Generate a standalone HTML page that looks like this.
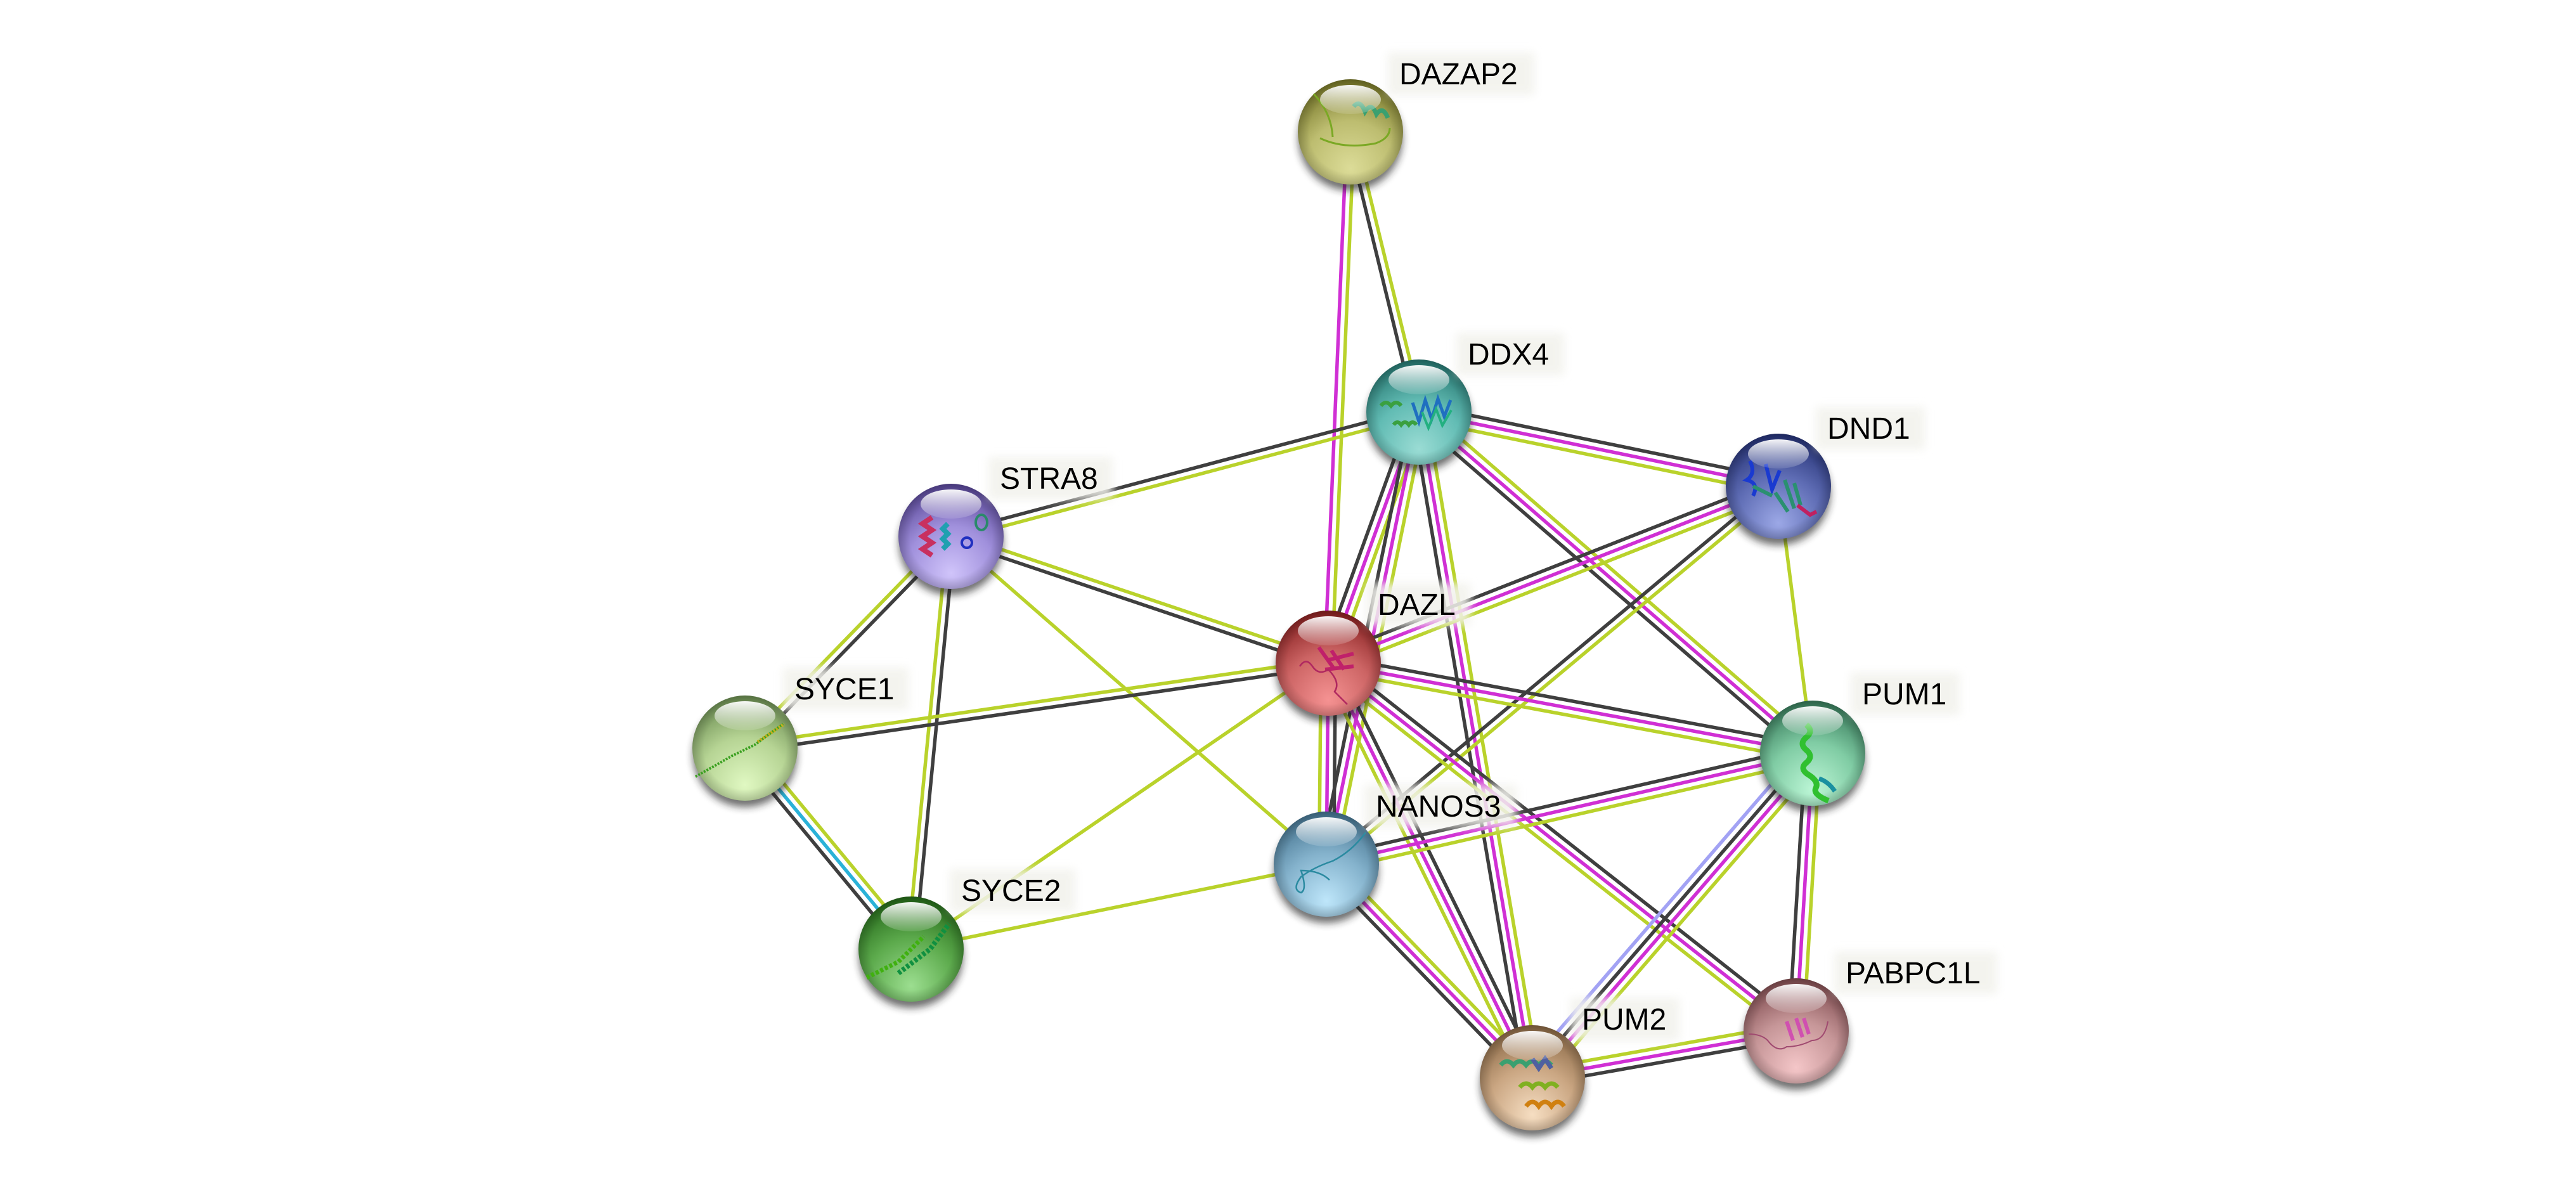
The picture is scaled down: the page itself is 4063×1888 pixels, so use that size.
<!DOCTYPE html>
<html><head><meta charset="utf-8">
<style>
html,body{margin:0;padding:0;background:#fff;}
svg{display:block;}
text{font-family:"Liberation Sans",Arial,sans-serif;font-size:48px;fill:#000;}
</style></head>
<body>
<svg width="4063" height="1888" viewBox="0 0 4063 1888" xmlns="http://www.w3.org/2000/svg">
<defs>
<filter id="sh" x="-50%" y="-50%" width="200%" height="200%"><feGaussianBlur stdDeviation="6"/></filter>
<filter id="lb" x="-30%" y="-50%" width="160%" height="200%"><feGaussianBlur stdDeviation="7"/></filter>
<linearGradient id="hl" x1="0" y1="0" x2="0" y2="1">
<stop offset="0" stop-color="#fff" stop-opacity="0.95"/>
<stop offset="1" stop-color="#fff" stop-opacity="0.12"/>
</linearGradient>
<radialGradient id="rim" cx="0.5" cy="0.5" r="0.5">
<stop offset="0.78" stop-color="#000" stop-opacity="0"/>
<stop offset="1" stop-color="#000" stop-opacity="0.18"/>
</radialGradient>
<radialGradient id="g1" cx="0.5" cy="0.8" r="0.85" fx="0.5" fy="0.85"><stop offset="0" stop-color="#dcdc98"/><stop offset="0.5" stop-color="#bdbd70"/><stop offset="1" stop-color="#6a6a1c"/></radialGradient>
<radialGradient id="g2" cx="0.5" cy="0.8" r="0.85" fx="0.5" fy="0.85"><stop offset="0" stop-color="#9adcd4"/><stop offset="0.5" stop-color="#62bcb4"/><stop offset="1" stop-color="#1c6a64"/></radialGradient>
<radialGradient id="g3" cx="0.5" cy="0.8" r="0.85" fx="0.5" fy="0.85"><stop offset="0" stop-color="#9ca8e6"/><stop offset="0.5" stop-color="#5e6cb4"/><stop offset="1" stop-color="#1c286a"/></radialGradient>
<radialGradient id="g4" cx="0.5" cy="0.8" r="0.85" fx="0.5" fy="0.85"><stop offset="0" stop-color="#d0c4fa"/><stop offset="0.5" stop-color="#a090dc"/><stop offset="1" stop-color="#4c3a8a"/></radialGradient>
<radialGradient id="g5" cx="0.5" cy="0.8" r="0.85" fx="0.5" fy="0.85"><stop offset="0" stop-color="#f59292"/><stop offset="0.5" stop-color="#cc6464"/><stop offset="1" stop-color="#7c1616"/></radialGradient>
<radialGradient id="g6" cx="0.5" cy="0.8" r="0.85" fx="0.5" fy="0.85"><stop offset="0" stop-color="#e0f8c2"/><stop offset="0.5" stop-color="#b6d494"/><stop offset="1" stop-color="#5e8046"/></radialGradient>
<radialGradient id="g7" cx="0.5" cy="0.8" r="0.85" fx="0.5" fy="0.85"><stop offset="0" stop-color="#bcf6d6"/><stop offset="0.5" stop-color="#80cca4"/><stop offset="1" stop-color="#2c6c4e"/></radialGradient>
<radialGradient id="g8" cx="0.5" cy="0.8" r="0.85" fx="0.5" fy="0.85"><stop offset="0" stop-color="#bee6fa"/><stop offset="0.5" stop-color="#84b2cc"/><stop offset="1" stop-color="#3a6884"/></radialGradient>
<radialGradient id="g9" cx="0.5" cy="0.8" r="0.85" fx="0.5" fy="0.85"><stop offset="0" stop-color="#9cde90"/><stop offset="0.5" stop-color="#5caa4c"/><stop offset="1" stop-color="#1c5e12"/></radialGradient>
<radialGradient id="g10" cx="0.5" cy="0.8" r="0.85" fx="0.5" fy="0.85"><stop offset="0" stop-color="#f4c6c8"/><stop offset="0.5" stop-color="#c69698"/><stop offset="1" stop-color="#744044"/></radialGradient>
<radialGradient id="g11" cx="0.5" cy="0.8" r="0.85" fx="0.5" fy="0.85"><stop offset="0" stop-color="#f6dec2"/><stop offset="0.5" stop-color="#caa682"/><stop offset="1" stop-color="#7c5c3a"/></radialGradient>
</defs>

<rect width="4063" height="1888" fill="#fff"/>

<g stroke-width="5.5" fill="none">
<!-- 1 DAZAP2-DAZL -->
<g transform="translate(2130 208) rotate(92.39)"><line x1="0" y1="-5.75" x2="838.7" y2="-5.75" stroke="#b9d22b"/><line x1="0" y1="5.75" x2="838.7" y2="5.75" stroke="#d02fd4"/></g>
<!-- 2 DAZAP2-DDX4 -->
<g transform="translate(2130 208) rotate(76.27)"><line x1="0" y1="-5.75" x2="455" y2="-5.75" stroke="#b9d22b"/><line x1="0" y1="5.75" x2="455" y2="5.75" stroke="#3f3f3f"/></g>
<!-- 3 STRA8-DDX4 -->
<g transform="translate(1500 846) rotate(-14.87)"><line x1="0" y1="-5.75" x2="763.6" y2="-5.75" stroke="#3f3f3f"/><line x1="0" y1="5.75" x2="763.6" y2="5.75" stroke="#b9d22b"/></g>
<!-- 4 DDX4-DND1 -->
<g transform="translate(2238 650) rotate(11.66)"><line x1="0" y1="-11.5" x2="578.9" y2="-11.5" stroke="#3f3f3f"/><line x1="0" y1="0" x2="578.9" y2="0" stroke="#d02fd4"/><line x1="0" y1="11.5" x2="578.9" y2="11.5" stroke="#b9d22b"/></g>
<!-- 5 DDX4-DAZL -->
<g transform="translate(2238 650) rotate(109.86)"><line x1="0" y1="-11.5" x2="421" y2="-11.5" stroke="#b9d22b"/><line x1="0" y1="0" x2="421" y2="0" stroke="#d02fd4"/><line x1="0" y1="11.5" x2="421" y2="11.5" stroke="#3f3f3f"/></g>
<!-- 6 DDX4-NANOS3 -->
<g transform="translate(2238 650) rotate(101.57)"><line x1="0" y1="-11.5" x2="727.8" y2="-11.5" stroke="#b9d22b"/><line x1="0" y1="0" x2="727.8" y2="0" stroke="#d02fd4"/><line x1="0" y1="11.5" x2="727.8" y2="11.5" stroke="#3f3f3f"/></g>
<!-- 7 DDX4-PUM1 -->
<g transform="translate(2238 650) rotate(40.90)"><line x1="0" y1="-11.5" x2="821.6" y2="-11.5" stroke="#b9d22b"/><line x1="0" y1="0" x2="821.6" y2="0" stroke="#d02fd4"/><line x1="0" y1="11.5" x2="821.6" y2="11.5" stroke="#3f3f3f"/></g>
<!-- 8 DDX4-PUM2 -->
<g transform="translate(2238 650) rotate(80.33)"><line x1="0" y1="-11.5" x2="1065.1" y2="-11.5" stroke="#b9d22b"/><line x1="0" y1="0" x2="1065.1" y2="0" stroke="#d02fd4"/><line x1="0" y1="11.5" x2="1065.1" y2="11.5" stroke="#3f3f3f"/></g>
<!-- 9 DAZL-DND1 -->
<g transform="translate(2095 1046) rotate(-21.45)"><line x1="0" y1="-11.5" x2="762.9" y2="-11.5" stroke="#3f3f3f"/><line x1="0" y1="0" x2="762.9" y2="0" stroke="#d02fd4"/><line x1="0" y1="11.5" x2="762.9" y2="11.5" stroke="#b9d22b"/></g>
<!-- 10 NANOS3-DND1 -->
<g transform="translate(2092 1363) rotate(-39.89)"><line x1="0" y1="-5.75" x2="929.3" y2="-5.75" stroke="#3f3f3f"/><line x1="0" y1="5.75" x2="929.3" y2="5.75" stroke="#b9d22b"/></g>
<!-- 11 DND1-PUM1 -->
<g transform="translate(2805 767) rotate(82.69)"><line x1="0" y1="0" x2="424.4" y2="0" stroke="#b9d22b"/></g>
<!-- 12 STRA8-DAZL -->
<g transform="translate(1500 846) rotate(18.58)"><line x1="0" y1="-5.75" x2="627.7" y2="-5.75" stroke="#b9d22b"/><line x1="0" y1="5.75" x2="627.7" y2="5.75" stroke="#3f3f3f"/></g>
<!-- 13 STRA8-SYCE1 -->
<g transform="translate(1500 846) rotate(134.21)"><line x1="0" y1="-5.75" x2="466" y2="-5.75" stroke="#3f3f3f"/><line x1="0" y1="5.75" x2="466" y2="5.75" stroke="#b9d22b"/></g>
<!-- 14 STRA8-SYCE2 -->
<g transform="translate(1500 846) rotate(95.53)"><line x1="0" y1="-5.75" x2="654" y2="-5.75" stroke="#3f3f3f"/><line x1="0" y1="5.75" x2="654" y2="5.75" stroke="#b9d22b"/></g>
<!-- 15 STRA8-NANOS3 -->
<g transform="translate(1500 846) rotate(41.13)"><line x1="0" y1="0" x2="786" y2="0" stroke="#b9d22b"/></g>
<!-- 16 SYCE1-DAZL -->
<g transform="translate(1175 1180) rotate(-8.29)"><line x1="0" y1="-5.75" x2="929.7" y2="-5.75" stroke="#b9d22b"/><line x1="0" y1="5.75" x2="929.7" y2="5.75" stroke="#3f3f3f"/></g>
<!-- 17 SYCE1-SYCE2 -->
<g transform="translate(1175 1180) rotate(50.42)"><line x1="0" y1="-11.5" x2="411.3" y2="-11.5" stroke="#b9d22b"/><line x1="0" y1="0" x2="411.3" y2="0" stroke="#2ab2d8"/><line x1="0" y1="11.5" x2="411.3" y2="11.5" stroke="#3f3f3f"/></g>
<!-- 18 SYCE2-DAZL -->
<g transform="translate(1437 1497) rotate(-34.43)"><line x1="0" y1="0" x2="797.7" y2="0" stroke="#b9d22b"/></g>
<!-- 19 SYCE2-NANOS3 -->
<g transform="translate(1437 1497) rotate(-11.56)"><line x1="0" y1="0" x2="668.6" y2="0" stroke="#b9d22b"/></g>
<!-- 20 DAZL-PUM1 -->
<g transform="translate(2095 1046) rotate(10.53)"><line x1="0" y1="-11.5" x2="777.1" y2="-11.5" stroke="#3f3f3f"/><line x1="0" y1="0" x2="777.1" y2="0" stroke="#d02fd4"/><line x1="0" y1="11.5" x2="777.1" y2="11.5" stroke="#b9d22b"/></g>
<!-- 21 DAZL-NANOS3 -->
<g transform="translate(2095 1046) rotate(90.54)"><line x1="0" y1="-11.5" x2="317" y2="-11.5" stroke="#3f3f3f"/><line x1="0" y1="0" x2="317" y2="0" stroke="#d02fd4"/><line x1="0" y1="11.5" x2="317" y2="11.5" stroke="#b9d22b"/></g>
<!-- 22 DAZL-PUM2 -->
<g transform="translate(2095 1046) rotate(63.79)"><line x1="0" y1="-11.5" x2="729" y2="-11.5" stroke="#3f3f3f"/><line x1="0" y1="0" x2="729" y2="0" stroke="#d02fd4"/><line x1="0" y1="11.5" x2="729" y2="11.5" stroke="#b9d22b"/></g>
<!-- 23 DAZL-PABPC1L -->
<g transform="translate(2095 1046) rotate(38.17)"><line x1="0" y1="-11.5" x2="938.6" y2="-11.5" stroke="#3f3f3f"/><line x1="0" y1="0" x2="938.6" y2="0" stroke="#d02fd4"/><line x1="0" y1="11.5" x2="938.6" y2="11.5" stroke="#b9d22b"/></g>
<!-- 24 NANOS3-PUM1 -->
<g transform="translate(2092 1363) rotate(-12.85)"><line x1="0" y1="-11.5" x2="786.7" y2="-11.5" stroke="#3f3f3f"/><line x1="0" y1="0" x2="786.7" y2="0" stroke="#d02fd4"/><line x1="0" y1="11.5" x2="786.7" y2="11.5" stroke="#b9d22b"/></g>
<!-- 25 NANOS3-PUM2 -->
<g transform="translate(2092 1363) rotate(46.04)"><line x1="0" y1="-11.5" x2="468.2" y2="-11.5" stroke="#b9d22b"/><line x1="0" y1="0" x2="468.2" y2="0" stroke="#d02fd4"/><line x1="0" y1="11.5" x2="468.2" y2="11.5" stroke="#3f3f3f"/></g>
<!-- 26 PUM1-PUM2 -->
<g transform="translate(2859 1188) rotate(130.81)"><line x1="0" y1="-17.25" x2="676.4" y2="-17.25" stroke="#b9d22b"/><line x1="0" y1="-5.75" x2="676.4" y2="-5.75" stroke="#d02fd4"/><line x1="0" y1="5.75" x2="676.4" y2="5.75" stroke="#3f3f3f"/><line x1="0" y1="17.25" x2="676.4" y2="17.25" stroke="#a2a2f4"/></g>
<!-- 27 PUM1-PABPC1L -->
<g transform="translate(2859 1188) rotate(93.40)"><line x1="0" y1="-11.5" x2="438.8" y2="-11.5" stroke="#b9d22b"/><line x1="0" y1="0" x2="438.8" y2="0" stroke="#d02fd4"/><line x1="0" y1="11.5" x2="438.8" y2="11.5" stroke="#3f3f3f"/></g>
<!-- 28 PUM2-PABPC1L -->
<g transform="translate(2417 1700) rotate(-10.09)"><line x1="0" y1="-11.5" x2="422.5" y2="-11.5" stroke="#b9d22b"/><line x1="0" y1="0" x2="422.5" y2="0" stroke="#d02fd4"/><line x1="0" y1="11.5" x2="422.5" y2="11.5" stroke="#3f3f3f"/></g>
</g>

<!-- nodes -->
<g id="nodes">
<!-- DAZAP2 -->
<g transform="translate(2130 208)">
<circle cx="0" cy="11" r="82" fill="#222" opacity="0.65" filter="url(#sh)"/>
<circle r="83" fill="url(#g1)"/><circle r="83" fill="url(#rim)"/>
<path d="M-58,-60 Q-30,-30 -28,8 M-48,10 Q-10,28 40,18 Q62,10 62,-6" stroke="#7aa824" stroke-width="3" fill="none"/>
<path d="M5,-40 q10,-12 18,8 q10,-16 18,4 q10,-14 18,6" stroke="#3aa070" stroke-width="7" fill="none"/>
<ellipse cx="0" cy="-51" rx="48" ry="23" fill="url(#hl)"/>
</g>
<!-- DDX4 -->
<g transform="translate(2238 650)">
<circle cx="0" cy="11" r="82" fill="#222" opacity="0.65" filter="url(#sh)"/>
<circle r="83" fill="url(#g2)"/><circle r="83" fill="url(#rim)"/>
<path d="M-60,-10 q8,-10 16,0 q8,-10 16,0 M-40,20 q6,-8 12,0 q6,-8 12,0 q6,-8 12,0" stroke="#3aa040" stroke-width="6" fill="none"/>
<path d="M-10,-15 l10,30 l10,-34 l10,30 l10,-32 l10,28 l10,-26" stroke="#1f6fc0" stroke-width="5" fill="none"/>
<path d="M5,0 l10,25 l12,-30 l10,26 l14,-24" stroke="#22b080" stroke-width="4" fill="none"/>
<ellipse cx="0" cy="-51" rx="48" ry="23" fill="url(#hl)"/>
</g>
<!-- DND1 -->
<g transform="translate(2805 767)">
<circle cx="0" cy="11" r="82" fill="#222" opacity="0.65" filter="url(#sh)"/>
<circle r="83" fill="url(#g3)"/><circle r="83" fill="url(#rim)"/>
<path d="M-45,-40 q10,20 -5,30 q20,5 10,25 M-20,-35 l10,40 l12,-30" stroke="#1a3ad0" stroke-width="6" fill="none"/>
<path d="M-40,0 l30,15 M-5,10 l20,30 M10,-10 l15,45 M25,-5 l10,35" stroke="#2a9070" stroke-width="6" fill="none"/>
<path d="M30,30 l20,15 l10,-5" stroke="#c02060" stroke-width="6" fill="none"/>
<ellipse cx="0" cy="-51" rx="48" ry="23" fill="url(#hl)"/>
</g>
<!-- STRA8 -->
<g transform="translate(1500 846)">
<circle cx="0" cy="11" r="82" fill="#222" opacity="0.65" filter="url(#sh)"/>
<circle r="83" fill="url(#g4)"/><circle r="83" fill="url(#rim)"/>
<path d="M-30,-30 l-15,10 l15,10 l-15,10 l15,10 l-15,10 l15,10" stroke="#c83060" stroke-width="8" fill="none"/>
<path d="M-5,-20 l-8,8 l8,8 l-8,8 l8,8 l-8,8" stroke="#20a0b0" stroke-width="8" fill="none"/>
<circle cx="25" cy="10" r="8" stroke="#2030c0" stroke-width="4" fill="none"/>
<ellipse cx="48" cy="-22" rx="9" ry="12" stroke="#2a8a6a" stroke-width="4" fill="none"/>
<ellipse cx="0" cy="-51" rx="48" ry="23" fill="url(#hl)"/>
</g>
<!-- DAZL -->
<g transform="translate(2095 1046)">
<circle cx="0" cy="11" r="82" fill="#222" opacity="0.65" filter="url(#sh)"/>
<circle r="83" fill="url(#g5)"/><circle r="83" fill="url(#rim)"/>
<path d="M-15,-25 l25,35 M0,-5 l40,-10 M-5,10 l45,-5 M5,-20 l20,30" stroke="#c0206a" stroke-width="6" fill="none"/>
<path d="M-45,5 q10,-15 20,0 q10,15 25,5 q20,20 10,35 q10,10 20,20" stroke="#b02860" stroke-width="2.5" fill="none"/>
<ellipse cx="0" cy="-51" rx="48" ry="23" fill="url(#hl)"/>
</g>
<!-- SYCE1 -->
<g transform="translate(1175 1180)">
<circle cx="0" cy="11" r="82" fill="#222" opacity="0.65" filter="url(#sh)"/>
<circle r="83" fill="url(#g6)"/><circle r="83" fill="url(#rim)"/>
<path d="M-78,45 L-20,12 L15,-5 L60,-38" stroke="#3aa020" stroke-width="4" fill="none" stroke-dasharray="3 2"/>
<path d="M20,-10 L62,-38" stroke="#c0b020" stroke-width="5" fill="none" stroke-dasharray="3 2"/>
<ellipse cx="0" cy="-51" rx="48" ry="23" fill="url(#hl)"/>
</g>
<!-- PUM1 -->
<g transform="translate(2859 1188)">
<circle cx="0" cy="11" r="82" fill="#222" opacity="0.65" filter="url(#sh)"/>
<circle r="83" fill="url(#g7)"/><circle r="83" fill="url(#rim)"/>
<path d="M-10,-45 q12,10 0,20 q-12,10 0,20 q12,10 0,20 q-12,10 5,20 q15,10 10,20 q-5,10 20,20" stroke="#30c030" stroke-width="9" fill="none"/>
<path d="M10,40 q15,5 25,20" stroke="#1a90a0" stroke-width="7" fill="none"/>
<ellipse cx="0" cy="-51" rx="48" ry="23" fill="url(#hl)"/>
</g>
<!-- NANOS3 -->
<g transform="translate(2092 1363)">
<circle cx="0" cy="11" r="82" fill="#222" opacity="0.65" filter="url(#sh)"/>
<circle r="83" fill="url(#g8)"/><circle r="83" fill="url(#rim)"/>
<path d="M62,-50 Q40,-20 10,-5 Q-20,5 -40,20 Q-55,40 -40,45 Q-30,40 -40,10 Q-10,10 5,25" stroke="#2a8aa0" stroke-width="2.5" fill="none"/>
<ellipse cx="0" cy="-51" rx="48" ry="23" fill="url(#hl)"/>
</g>
<!-- SYCE2 -->
<g transform="translate(1437 1497)">
<circle cx="0" cy="11" r="82" fill="#222" opacity="0.65" filter="url(#sh)"/>
<circle r="83" fill="url(#g9)"/><circle r="83" fill="url(#rim)"/>
<path d="M-70,45 L-20,20 L20,-20" stroke="#40b010" stroke-width="7" fill="none" stroke-dasharray="5 3"/>
<path d="M-20,38 L30,0 L60,-40" stroke="#109040" stroke-width="8" fill="none" stroke-dasharray="5 3"/>
<ellipse cx="0" cy="-51" rx="48" ry="23" fill="url(#hl)"/>
</g>
<!-- PABPC1L -->
<g transform="translate(2833 1626)">
<circle cx="0" cy="11" r="82" fill="#222" opacity="0.65" filter="url(#sh)"/>
<circle r="83" fill="url(#g10)"/><circle r="83" fill="url(#rim)"/>
<path d="M-75,5 q20,0 30,10 q15,20 30,10 q20,0 40,-10 q20,0 25,-30" stroke="#a04a70" stroke-width="2" fill="none"/>
<path d="M-15,-15 l10,30 M0,-20 l10,30 M12,-20 l8,25" stroke="#d050b0" stroke-width="6" fill="none"/>
<ellipse cx="0" cy="-51" rx="48" ry="23" fill="url(#hl)"/>
</g>
<!-- PUM2 -->
<g transform="translate(2417 1700)">
<circle cx="0" cy="11" r="82" fill="#222" opacity="0.65" filter="url(#sh)"/>
<circle r="83" fill="url(#g11)"/><circle r="83" fill="url(#rim)"/>
<path d="M-50,-20 q10,-12 20,0 q10,-12 20,0 q10,-12 20,0 q10,-12 20,0" stroke="#3aa070" stroke-width="7" fill="none"/>
<path d="M-20,15 q10,-12 20,0 q10,-12 20,0 q10,-12 20,0" stroke="#80b020" stroke-width="7" fill="none"/>
<path d="M-10,45 q10,-14 20,0 q10,-14 20,0 q10,-14 20,0" stroke="#d08010" stroke-width="7" fill="none"/>
<path d="M0,-30 l10,15 l10,-15 l10,15" stroke="#5060a0" stroke-width="7" fill="none"/>
<ellipse cx="0" cy="-51" rx="48" ry="23" fill="url(#hl)"/>
</g>
</g>

<!-- labels -->
<g>
<rect x="2189" y="83" width="231" height="67" fill="#f2f2ec" opacity="0.85" filter="url(#lb)"/>
<text x="2207" y="133">DAZAP2</text>
<rect x="2297" y="525" width="170" height="67" fill="#f2f2ec" opacity="0.85" filter="url(#lb)"/>
<text x="2315" y="575">DDX4</text>
<rect x="2864" y="642" width="172" height="67" fill="#f2f2ec" opacity="0.85" filter="url(#lb)"/>
<text x="2882" y="692">DND1</text>
<rect x="1559" y="721" width="196" height="67" fill="#f2f2ec" opacity="0.85" filter="url(#lb)"/>
<text x="1577" y="771">STRA8</text>
<rect x="2155" y="920" width="164" height="67" fill="#f2f2ec" opacity="0.85" filter="url(#lb)"/>
<text x="2173" y="970">DAZL</text>
<rect x="1235" y="1053" width="198" height="67" fill="#f2f2ec" opacity="0.85" filter="url(#lb)"/>
<text x="1253" y="1103">SYCE1</text>
<rect x="2919" y="1061" width="172" height="67" fill="#f2f2ec" opacity="0.85" filter="url(#lb)"/>
<text x="2937" y="1111">PUM1</text>
<rect x="2152" y="1238" width="240" height="67" fill="#f2f2ec" opacity="0.85" filter="url(#lb)"/>
<text x="2170" y="1288">NANOS3</text>
<rect x="1498" y="1371" width="198" height="67" fill="#f2f2ec" opacity="0.85" filter="url(#lb)"/>
<text x="1516" y="1421">SYCE2</text>
<rect x="2893" y="1501" width="257" height="67" fill="#f2f2ec" opacity="0.85" filter="url(#lb)"/>
<text x="2911" y="1551">PABPC1L</text>
<rect x="2477" y="1574" width="172" height="67" fill="#f2f2ec" opacity="0.85" filter="url(#lb)"/>
<text x="2495" y="1624">PUM2</text>
</g>
</svg>
</body></html>
